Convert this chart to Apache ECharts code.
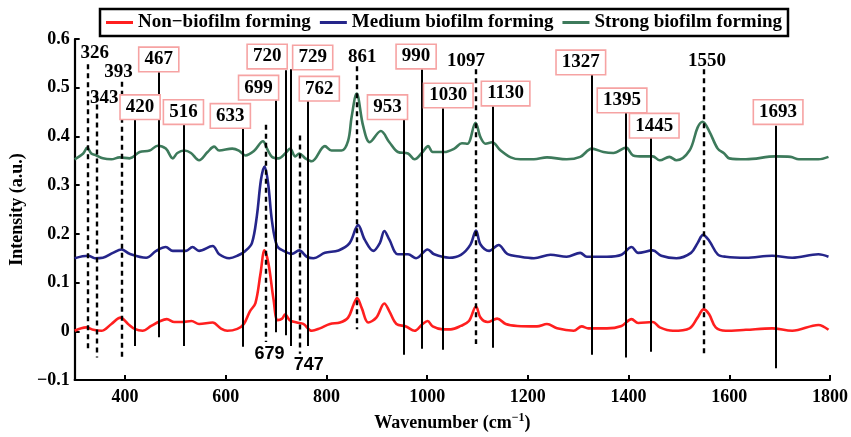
<!DOCTYPE html>
<html>
<head>
<meta charset="utf-8">
<script src="https://cdn.jsdelivr.net/npm/echarts@6/dist/echarts.min.js"></script>
<style>
  html, body { margin: 0; padding: 0; background: #fff; }
  #chart { width: 851px; height: 437px; }
</style>
</head>
<body>
<div id="chart"></div>
<script>
// Raman spectra of three biofilm-forming groups (intensity offset per group)
const seriesNames = ['Non\u2212biofilm forming', 'Medium biofilm forming', 'Strong biofilm forming'];

const nonWn = [300, 323, 337, 353, 373, 391, 406, 419, 435, 452, 468, 483, 498, 514, 532, 547, 574, 590, 603, 623, 636, 648, 659, 669, 677, 685, 695, 703, 712, 718, 727, 741, 754, 771, 787, 807, 827, 843, 854, 861, 870, 883, 899, 915, 925, 939, 958, 975, 991, 1001, 1011, 1031, 1047, 1067, 1083, 1097, 1106, 1120, 1139, 1156, 1179, 1218, 1238, 1258, 1291, 1307, 1320, 1357, 1386, 1406, 1419, 1448, 1462, 1488, 1521, 1537, 1549, 1560, 1573, 1593, 1633, 1685, 1725, 1777, 1797];
const nonI = [0.001, 0.008, 0.003, 0.001, 0.015, 0.028, 0.015, 0.005, 0.001, 0.011, 0.020, 0.025, 0.019, 0.019, 0.021, 0.015, 0.018, 0.006, 0.001, 0.005, 0.015, 0.041, 0.058, 0.118, 0.166, 0.138, 0.065, 0.023, 0.026, 0.035, 0.023, 0.018, 0.015, 0.001, 0.006, 0.015, 0.018, 0.028, 0.055, 0.068, 0.048, 0.018, 0.028, 0.057, 0.041, 0.015, 0.010, 0.001, 0.015, 0.021, 0.010, 0.004, 0.004, 0.011, 0.021, 0.051, 0.028, 0.019, 0.026, 0.015, 0.011, 0.010, 0.015, 0.006, 0.001, 0.010, 0.006, 0.006, 0.011, 0.025, 0.017, 0.019, 0.008, 0.001, 0.006, 0.028, 0.045, 0.035, 0.008, 0.001, 0.003, 0.006, 0.001, 0.013, 0.003];

const medWn = [300, 327, 340, 356, 376, 393, 409, 442, 462, 481, 495, 521, 534, 547, 574, 587, 607, 623, 639, 652, 662, 670, 677, 684, 692, 702, 715, 731, 746, 761, 774, 797, 824, 846, 863, 876, 893, 906, 915, 925, 942, 962, 978, 1001, 1014, 1044, 1067, 1086, 1097, 1106, 1123, 1142, 1159, 1185, 1212, 1245, 1277, 1304, 1317, 1357, 1386, 1406, 1419, 1448, 1465, 1495, 1524, 1537, 1548, 1560, 1577, 1593, 1633, 1685, 1725, 1777, 1797];
const medI = [0.150, 0.155, 0.150, 0.151, 0.161, 0.168, 0.159, 0.151, 0.165, 0.173, 0.165, 0.165, 0.173, 0.165, 0.175, 0.158, 0.150, 0.155, 0.165, 0.181, 0.238, 0.311, 0.338, 0.305, 0.225, 0.175, 0.165, 0.159, 0.166, 0.153, 0.150, 0.161, 0.166, 0.181, 0.218, 0.188, 0.165, 0.181, 0.206, 0.188, 0.158, 0.158, 0.150, 0.168, 0.158, 0.151, 0.157, 0.178, 0.207, 0.178, 0.165, 0.177, 0.159, 0.153, 0.150, 0.157, 0.153, 0.161, 0.153, 0.153, 0.157, 0.173, 0.161, 0.166, 0.155, 0.150, 0.161, 0.181, 0.198, 0.186, 0.158, 0.153, 0.151, 0.155, 0.151, 0.158, 0.153];

const strWn = [300, 317, 325, 333, 343, 356, 373, 389, 409, 429, 449, 465, 481, 495, 504, 518, 531, 547, 564, 577, 587, 613, 626, 639, 656, 674, 682, 692, 705, 718, 728, 738, 746, 758, 771, 797, 810, 830, 843, 850, 860, 873, 886, 908, 925, 942, 962, 975, 991, 1002, 1011, 1034, 1054, 1069, 1080, 1096, 1106, 1116, 1129, 1146, 1166, 1185, 1212, 1238, 1277, 1304, 1327, 1350, 1370, 1395, 1409, 1429, 1448, 1462, 1481, 1495, 1521, 1537, 1547, 1560, 1577, 1590, 1600, 1633, 1692, 1722, 1738, 1777, 1797];
const strI = [0.353, 0.365, 0.377, 0.365, 0.361, 0.355, 0.353, 0.357, 0.355, 0.368, 0.371, 0.381, 0.375, 0.355, 0.366, 0.371, 0.366, 0.351, 0.368, 0.379, 0.371, 0.375, 0.371, 0.361, 0.370, 0.390, 0.375, 0.358, 0.355, 0.365, 0.375, 0.359, 0.365, 0.355, 0.349, 0.380, 0.371, 0.371, 0.391, 0.440, 0.488, 0.421, 0.388, 0.411, 0.388, 0.368, 0.365, 0.353, 0.368, 0.380, 0.368, 0.368, 0.375, 0.386, 0.385, 0.428, 0.398, 0.385, 0.388, 0.371, 0.357, 0.353, 0.353, 0.357, 0.353, 0.358, 0.375, 0.368, 0.366, 0.377, 0.361, 0.359, 0.359, 0.351, 0.358, 0.351, 0.371, 0.418, 0.430, 0.411, 0.375, 0.365, 0.355, 0.353, 0.359, 0.358, 0.353, 0.353, 0.358];

// Band assignments: dashed = common bands, boxed = discriminating bands
const dashedPeaks = [326, 343, 393, 679, 747, 861, 1097, 1550];
const boxedPeaks = [420, 467, 516, 633, 699, 720, 729, 762, 953, 990, 1030, 1130, 1327, 1395, 1445, 1693];
const xTicks = [400, 600, 800, 1000, 1200, 1400, 1600, 1800];

// Layout of each band marker: [label centre (intensity), line top, line bottom, label shift in px]
const dashedLayout = [
  [0.572, 0.548, -0.038, 7],
  [0.478, 0.484, -0.054, 8],
  [0.532, 0.512, -0.054, -3],
  [-0.046, 0.424, -0.022, 4],
  [-0.070, 0.402, -0.046, 9],
  [0.562, 0.544, 0.004, 5],
  [0.554, 0.538, -0.026, -10],
  [0.554, 0.538, -0.048, 3]
];
const boxedLayout = [
  [0.460, 0.442, -0.030, 5],
  [0.558, 0.532, -0.012, 0],
  [0.450, 0.428, -0.030, 0],
  [0.442, 0.418, -0.032, -12],
  [0.500, 0.474, -0.002, -17],
  [0.564, 0.536, -0.008, -19],
  [0.562, 0.538, -0.030, 22],
  [0.498, 0.474, -0.030, 12],
  [0.460, 0.434, -0.048, -16],
  [0.564, 0.538, -0.036, -6],
  [0.484, 0.458, -0.038, 6],
  [0.488, 0.462, -0.034, 13],
  [0.552, 0.528, -0.048, -11],
  [0.474, 0.452, -0.054, -4],
  [0.422, 0.398, -0.042, 3],
  [0.450, 0.422, -0.076, 2]
];
// Bands whose number sits below the spectra, in a sans face
const belowLabelBands = [679, 747];

const SERIF = "'Liberation Serif', 'Times New Roman', serif";
const SANS = "'Liberation Sans', Arial, sans-serif";
const colors = ['#ff1f1f', '#25258a', '#3d7a5b'];

function pairs(xs, ys) { return xs.map((x, i) => [x, ys[i]]); }

function spectrum(name, xs, ys, color) {
  return {
    name, type: 'line', data: pairs(xs, ys), symbol: 'none', smooth: 0.35,
    lineStyle: { color, width: 2.6 }, itemStyle: { color }, z: 2, silent: true
  };
}

function markerSeries(name, bands, layout, dashed) {
  return {
    name, type: 'scatter', symbolSize: 0, z: 5, silent: true,
    itemStyle: { opacity: 1, color: '#000' },
    data: bands.map((b, i) => {
      const below = belowLabelBands.includes(b);
      return {
        value: [b, layout[i][0]],
        label: {
          offset: [layout[i][3], 0],
          color: '#000', textBorderWidth: 0, opacity: 1,
          fontFamily: below ? SANS : SERIF,
          fontWeight: 'bold',
          fontSize: below ? 18 : 19
        }
      };
    }),
    label: {
      show: true, position: 'inside', color: '#000', textBorderWidth: 0, opacity: 1,
      formatter: p => String(p.value[0]),
      ...(dashed ? {} : {
        backgroundColor: '#fff', borderColor: '#f6a3a3', borderWidth: 1.6,
        padding: [3, 5, 1, 5]
      })
    },
    markLine: {
      silent: true, symbol: 'none', animation: false,
      label: { show: false },
      lineStyle: { color: '#000', opacity: 1, width: dashed ? 2.4 : 2, type: dashed ? [5, 4] : 'solid' },
      data: bands.map((b, i) => [{ coord: [b, layout[i][1]] }, { coord: [b, layout[i][2]] }])
    }
  };
}

const chart = echarts.init(document.getElementById('chart'), null, { renderer: 'canvas' });
chart.setOption({
  animation: false,
  backgroundColor: '#fff',
  grid: { left: 71, right: 19, top: 39, bottom: 48, containLabel: false },
  legend: {
    data: seriesNames, left: 100, top: 9, z: 10, icon: 'rect',
    backgroundColor: '#fff', borderColor: '#000', borderWidth: 2.5,
    padding: [4, 6, 4, 6], itemGap: 9, itemWidth: 27, itemHeight: 3,
    selectedMode: false,
    textStyle: { fontFamily: SERIF, fontWeight: 'bold', fontSize: 19, color: '#000', padding: [2, 0, 0, 0] }
  },
  xAxis: {
    type: 'value', min: 300, max: 1800,
    name: '{t|Wavenumber (cm}{s|\u22121}{t|)}',
    nameLocation: 'middle', nameGap: 32,
    nameTextStyle: {
      rich: {
        t: { fontFamily: SERIF, fontWeight: 'bold', fontSize: 18, color: '#000' },
        s: { fontFamily: SERIF, fontWeight: 'bold', fontSize: 12, color: '#000', verticalAlign: 'top', padding: [0, 0, 10, 0] }
      }
    },
    splitLine: { show: false },
    axisLine: { onZero: false, lineStyle: { color: '#000', width: 2.2 } },
    axisTick: { inside: true, length: 5, customValues: xTicks, lineStyle: { color: '#000', width: 2 } },
    axisLabel: {
      customValues: xTicks, margin: 8, color: '#000',
      fontFamily: SERIF, fontWeight: 'bold', fontSize: 18,
      formatter: v => String(v)
    }
  },
  yAxis: {
    type: 'value', min: -0.1, max: 0.6, interval: 0.1,
    name: 'Intensity (a.u.)', nameLocation: 'middle', nameGap: 48,
    nameTextStyle: { fontFamily: SERIF, fontWeight: 'bold', fontSize: 18, color: '#000' },
    splitLine: { show: false },
    axisLine: { show: true, onZero: false, lineStyle: { color: '#000', width: 2.2 } },
    axisTick: { show: true, inside: true, length: 5, lineStyle: { color: '#000', width: 2 } },
    axisLabel: {
      margin: 5, color: '#000', fontFamily: SERIF, fontWeight: 'bold', fontSize: 18,
      formatter: v => {
        const r = Math.round(v * 10) / 10;
        if (r === 0) return '0';
        return (r < 0 ? '\u2212' : '') + Math.abs(r).toFixed(1);
      }
    }
  },
  series: [
    spectrum(seriesNames[0], nonWn, nonI, colors[0]),
    spectrum(seriesNames[1], medWn, medI, colors[1]),
    spectrum(seriesNames[2], strWn, strI, colors[2]),
    markerSeries('commonBands', dashedPeaks, dashedLayout, true),
    markerSeries('keyBands', boxedPeaks, boxedLayout, false)
  ]
});
</script>
</body>
</html>
